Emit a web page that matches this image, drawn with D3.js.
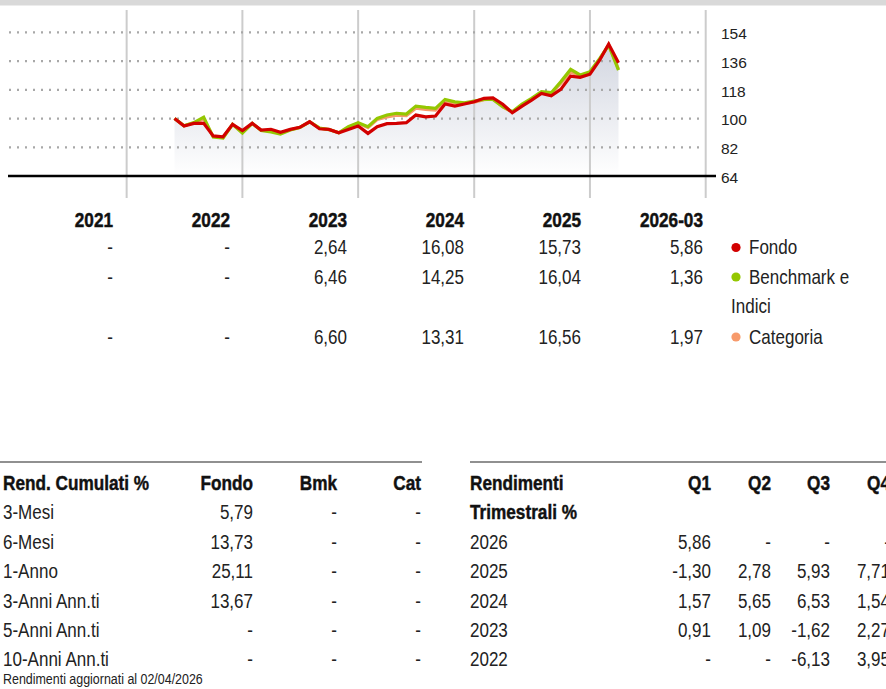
<!DOCTYPE html>
<html>
<head>
<meta charset="utf-8">
<script src="https://cdn.jsdelivr.net/npm/d3@7"></script>
<style>
  html, body { margin: 0; padding: 0; background: #fff; }
  svg { display: block; }
  .narrow { font-family: "Liberation Sans", Arial, sans-serif; }
</style>
</head>
<body>
<svg id="chart" width="886" height="689"></svg>
<script>
// Monthly index levels (rebased to 100), month-end observations
const months = [
  "2022-05","2022-06","2022-07","2022-08","2022-09","2022-10","2022-11","2022-12",
  "2023-01","2023-02","2023-03","2023-04","2023-05","2023-06","2023-07","2023-08","2023-09","2023-10","2023-11","2023-12",
  "2024-01","2024-02","2024-03","2024-04","2024-05","2024-06","2024-07","2024-08","2024-09","2024-10","2024-11","2024-12",
  "2025-01","2025-02","2025-03","2025-04","2025-05","2025-06","2025-07","2025-08","2025-09","2025-10","2025-11","2025-12",
  "2026-01","2026-02","2026-03"
];
const fondo = [
  100.0, 95.3, 97.0, 97.0, 89.1, 88.6, 96.4, 92.5,
  97.0, 92.8, 93.3, 91.4, 93.2, 94.5, 98.0, 93.6, 93.2, 91.1, 93.2, 95.3,
  90.7, 94.9, 96.8, 97.0, 97.4, 102.2, 101.1, 101.6, 109.1, 107.8, 109.1, 110.5,
  112.7, 113.0, 109.0, 103.6, 107.8, 111.6, 115.8, 114.3, 118.3, 126.6, 125.8, 127.8,
  136.7, 146.7, 135.0
];
const benchmark = [
  100.0, 95.5, 97.5, 100.9, 88.4, 87.8, 96.4, 90.9,
  97.0, 92.5, 91.6, 90.3, 92.8, 94.4, 98.0, 94.1, 93.1, 91.1, 94.9, 97.4,
  94.9, 100.1, 102.2, 103.3, 102.8, 107.8, 107.0, 106.4, 112.0, 110.5, 109.9, 111.0,
  112.0, 112.0, 107.4, 104.3, 109.1, 112.7, 116.8, 116.2, 123.1, 130.8, 127.3, 129.3,
  137.7, 146.0, 130.4
];
const categoria = [
  100.0, 95.5, 97.3, 99.5, 88.8, 88.0, 96.4, 91.3,
  97.0, 92.7, 92.3, 90.9, 93.0, 94.4, 98.0, 93.9, 93.1, 91.1, 94.5, 97.2,
  94.3, 99.3, 101.0, 102.0, 101.8, 106.4, 105.6, 105.3, 110.8, 109.6, 109.6, 110.2,
  111.8, 112.2, 107.3, 104.0, 108.7, 112.3, 116.3, 115.6, 122.0, 129.0, 127.0, 128.4,
  137.3, 146.2, 131.0
];
const yTicks = [64, 82, 100, 118, 136, 154];

// Calendar-year returns
const years = ["2021", "2022", "2023", "2024", "2025", "2026-03"];
const annualFondo = [null, null, 2.64, 16.08, 15.73, 5.86];
const annualBenchmark = [null, null, 6.46, 14.25, 16.04, 1.36];
const annualCategoria = [null, null, 6.60, 13.31, 16.56, 1.97];

// Cumulative returns
const cumLabels = ["3-Mesi", "6-Mesi", "1-Anno", "3-Anni Ann.ti", "5-Anni Ann.ti", "10-Anni Ann.ti"];
const cumFondo = [5.79, 13.73, 25.11, 13.67, null, null];
const cumBmk = [null, null, null, null, null, null];
const cumCat = [null, null, null, null, null, null];

// Quarterly returns
const quarters = ["Q1", "Q2", "Q3", "Q4"];
const quarterYears = ["2026", "2025", "2024", "2023", "2022"];
const q2026 = [5.86, null, null, null];
const q2025 = [-1.30, 2.78, 5.93, 7.71];
const q2024 = [1.57, 5.65, 6.53, 1.54];
const q2023 = [0.91, 1.09, -1.62, 2.27];
const q2022 = [null, null, -6.13, 3.95];

const itLocale = d3.formatLocale({decimal: ",", thousands: ".", grouping: [3], currency: ["€", ""], minus: "-"});
const fmt2 = itLocale.format(".2f");
const fmtVal = v => (v === null || v === undefined) ? "-" : fmt2(v);

const svg = d3.select("#chart");
const TEXT = "#222";

// places a horizontally condensed text at (x, y)
function label(parent, xPos, yPos, str, opts = {}) {
  const squeeze = opts.bold ? 0.86 : 0.83;
  const t = parent.append("text")
    .attr("transform", `translate(${xPos},${yPos}) scale(${squeeze},1)`)
    .attr("text-anchor", opts.anchor || "start")
    .attr("font-weight", opts.bold ? "bold" : null)
    .attr("font-size", opts.size || 20.5)
    .attr("fill", opts.bold ? "#111" : TEXT)
    .text(str);
  if (opts.bold) t.attr("stroke", "#111").attr("stroke-width", 0.45);
  return t;
}

// top band
svg.append("rect").attr("x", 0).attr("y", 0).attr("width", 886).attr("height", 5.5).attr("fill", "#d9d9d9");

// ---------- line chart ----------
const parseMonth = d3.timeParse("%Y-%m");
const dates = months.map(m => d3.timeMonth.offset(parseMonth(m), 1));
const x = d3.scaleTime()
  .domain([new Date(2021, 0, 1), new Date(2027, 0, 1)])
  .range([10.9, 705.7]);
const y = d3.scaleLinear().domain([64, 154]).range([176, 32.4]);

const defs = svg.append("defs");
const grad = defs.append("linearGradient")
  .attr("id", "areaFill").attr("gradientUnits", "userSpaceOnUse")
  .attr("x1", 0).attr("x2", 0).attr("y1", 40).attr("y2", 176);
grad.append("stop").attr("offset", 0).attr("stop-color", "#d0d4df");
grad.append("stop").attr("offset", 1).attr("stop-color", "#ffffff");

const series = dates.map((d, i) => ({d, f: fondo[i], b: benchmark[i], c: categoria[i]}));

svg.append("path")
  .datum(series)
  .attr("fill", "url(#areaFill)")
  .attr("d", d3.area().x(p => x(p.d)).y0(y(64)).y1(p => y(p.f)));

// vertical year separators
const yearBounds = d3.timeYear.range(new Date(2022, 0, 1), new Date(2027, 0, 2));
svg.append("g").selectAll("line").data(yearBounds).join("line")
  .attr("x1", d => x(d)).attr("x2", d => x(d))
  .attr("y1", 10).attr("y2", 198)
  .attr("stroke", "#cccccc").attr("stroke-width", 2);

// dotted horizontal grid
svg.append("g").selectAll("line").data(yTicks.filter(t => t !== 64)).join("line")
  .attr("x1", 9).attr("x2", 702)
  .attr("y1", d => y(d)).attr("y2", d => y(d))
  .attr("stroke", "#a8a8a8").attr("stroke-width", 2.2)
  .attr("stroke-dasharray", "2,6");

// baseline
svg.append("line")
  .attr("x1", 8).attr("x2", 716).attr("y1", y(64)).attr("y2", y(64))
  .attr("stroke", "#000").attr("stroke-width", 2.6);

// y axis labels
const yAxis = d3.axisRight(y).tickValues(yTicks).tickSize(0).tickPadding(0);
const yg = svg.append("g").attr("transform", "translate(721,0)").call(yAxis);
yg.select(".domain").remove();
yg.selectAll("text")
  .attr("font-family", "'Liberation Sans', Arial, sans-serif")
  .attr("font-size", 15.5).attr("fill", TEXT).attr("dy", "0.4em");

// series lines
const lineGen = key => d3.line().x(p => x(p.d)).y(p => y(p[key]));
svg.append("path").datum(series).attr("fill", "none").attr("stroke", "#f79a6b").attr("stroke-width", 3).attr("d", lineGen("c"));
svg.append("path").datum(series).attr("fill", "none").attr("stroke", "#94c701").attr("stroke-width", 3.2).attr("d", lineGen("b"));
svg.append("path").datum(series).attr("fill", "none").attr("stroke", "#d20000").attr("stroke-width", 3.2).attr("d", lineGen("f"));

// ---------- calendar-year table ----------
const colRight = [113, 230, 347, 464, 581, 703];
const annual = svg.append("g").attr("class", "narrow");
years.forEach((yr, i) => label(annual, colRight[i], 227, yr, {anchor: "end", bold: true, size: 20}));

const annualRows = [
  {vals: annualFondo, y: 254},
  {vals: annualBenchmark, y: 283.5},
  {vals: annualCategoria, y: 343.5}
];
annualRows.forEach(r => {
  r.vals.forEach((v, i) => label(annual, colRight[i], r.y, fmtVal(v), {anchor: "end"}));
});

// legend
const legend = [
  {lines: ["Fondo"], color: "#d20000", y: 254},
  {lines: ["Benchmark e", "Indici"], color: "#94c701", y: 283.5},
  {lines: ["Categoria"], color: "#f79a6b", y: 343.5}
];
const lg = svg.append("g").attr("class", "narrow");
legend.forEach(l => {
  lg.append("circle").attr("cx", 736).attr("cy", l.y - 6.5).attr("r", 4.6).attr("fill", l.color);
  l.lines.forEach((t, k) => label(lg, k === 0 ? 749 : 731, l.y + k * 29.8, t));
});

// ---------- cumulative returns table ----------
const rowY = k => 490 + k * 29.4;
const left = svg.append("g").attr("class", "narrow");
left.append("line").attr("x1", 0).attr("x2", 422).attr("y1", 462).attr("y2", 462)
  .attr("stroke", "#222").attr("stroke-width", 1.2);
const cumCols = [{h: "Fondo", x: 253, v: cumFondo}, {h: "Bmk", x: 337, v: cumBmk}, {h: "Cat", x: 421, v: cumCat}];
label(left, 3, rowY(0), "Rend. Cumulati %", {bold: true, size: 20});
cumCols.forEach(c => {
  label(left, c.x, rowY(0), c.h, {anchor: "end", bold: true, size: 20});
  c.v.forEach((v, i) => label(left, c.x, rowY(i + 1), fmtVal(v), {anchor: "end"}));
});
cumLabels.forEach((t, i) => label(left, 3, rowY(i + 1), t));
label(left, 3, 684, "Rendimenti aggiornati al 02/04/2026", {size: 15});

// ---------- quarterly returns table ----------
const right = svg.append("g").attr("class", "narrow");
right.append("line").attr("x1", 470).attr("x2", 886).attr("y1", 462).attr("y2", 462)
  .attr("stroke", "#222").attr("stroke-width", 1.2);
label(right, 470, rowY(0), "Rendimenti", {bold: true, size: 20});
label(right, 470, rowY(1), "Trimestrali %", {bold: true, size: 20});
const qRight = [711, 771, 830, 890];
quarters.forEach((q, i) => label(right, qRight[i], rowY(0), q, {anchor: "end", bold: true, size: 20}));
const qRows = [q2026, q2025, q2024, q2023, q2022];
qRows.forEach((vals, r) => {
  label(right, 470, rowY(r + 2), quarterYears[r]);
  vals.forEach((v, i) => label(right, qRight[i], rowY(r + 2), fmtVal(v), {anchor: "end"}));
});
</script>
</body>
</html>
